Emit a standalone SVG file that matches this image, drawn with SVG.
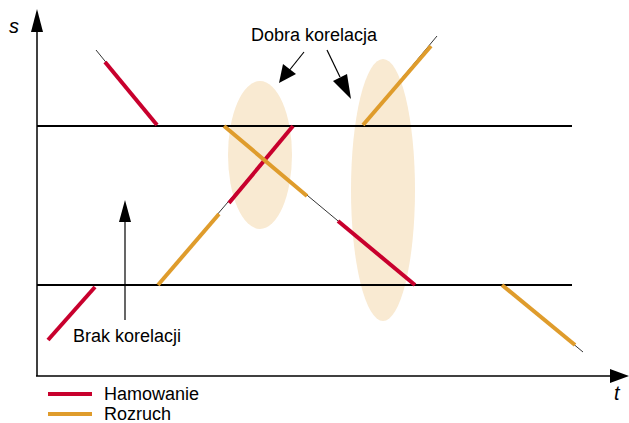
<svg xmlns="http://www.w3.org/2000/svg" width="629" height="423" viewBox="0 0 629 423">
<style>
.ax{stroke:#000;stroke-width:1.5;fill:none}
.ref{stroke:#000;stroke-width:2;fill:none}
.thin{stroke:#000;stroke-width:0.8;fill:none}
.red{stroke:#c8002d;stroke-width:4;fill:none}
.org{stroke:#df9c2c;stroke-width:4;fill:none}
.zone{fill:#f9ead2}
.lbl{font-family:"Liberation Sans",Arial,sans-serif;font-size:18px;fill:#000}
.it{font-family:"Liberation Sans",Arial,sans-serif;font-size:20px;font-style:italic;fill:#000}
.ptr{stroke:#000;stroke-width:1.2;fill:none}
</style>
<rect width="629" height="423" fill="#fff"/>
<g id="zones">
<ellipse class="zone" cx="260" cy="155" rx="32" ry="74"/>
<ellipse class="zone" cx="383" cy="190" rx="32" ry="131"/>
</g>
<g id="axes">
<line class="ax" x1="37" y1="376" x2="37" y2="28"/>
<polygon points="37,9 31,32 43,32" fill="#000"/>
<line class="ax" x1="36" y1="376" x2="612" y2="376"/>
<polygon points="629,376 610,369 610,383" fill="#000"/>
<text class="it" x="9" y="33">s</text>
<text class="it" x="614" y="400">t</text>
<line class="ref" x1="37" y1="126" x2="572" y2="126"/>
<line class="ref" x1="37" y1="285" x2="572" y2="285"/>
</g>
<g id="connectors">
<line class="thin" x1="96" y1="50" x2="157" y2="125"/>
<line class="red" x1="105" y1="62" x2="157" y2="125"/>
<line class="thin" x1="157" y1="285" x2="293" y2="126"/>
<line class="red" x1="229" y1="203" x2="293" y2="126"/>
<line class="org" x1="158" y1="285" x2="219" y2="214"/>
<line class="thin" x1="224" y1="126" x2="415" y2="285"/>
<line class="red" x1="338" y1="221" x2="415" y2="285"/>
<line class="org" x1="224" y1="126" x2="307" y2="196"/>
<line class="thin" x1="363" y1="125" x2="437" y2="36"/>
<line class="org" x1="363" y1="125" x2="431" y2="46"/>
<line class="thin" x1="502" y1="285" x2="583" y2="352"/>
<line class="org" x1="502" y1="285" x2="575" y2="345"/>
<line class="red" x1="48" y1="340" x2="95" y2="287"/>
</g>
<g id="labels">
<text class="lbl" x="251" y="41">Dobra korelacja</text>
<line class="ptr" x1="304" y1="52" x2="288" y2="72"/>
<polygon points="279,83 283,64 296,74" fill="#000"/>
<line class="ptr" x1="327" y1="50" x2="340" y2="77"/>
<polygon points="351,99 333,81 347,74" fill="#000"/>
<text class="lbl" x="73" y="342">Brak korelacji</text>
<line class="ptr" x1="125" y1="320" x2="125" y2="215"/>
<polygon points="125,200 119,222 131,222" fill="#000"/>
</g>
<g id="legend">
<line class="red" x1="48" y1="394" x2="92" y2="394"/>
<line class="org" x1="48" y1="414" x2="92" y2="414"/>
<text class="lbl" x="104" y="400">Hamowanie</text>
<text class="lbl" x="104" y="420">Rozruch</text>
</g>
</svg>
